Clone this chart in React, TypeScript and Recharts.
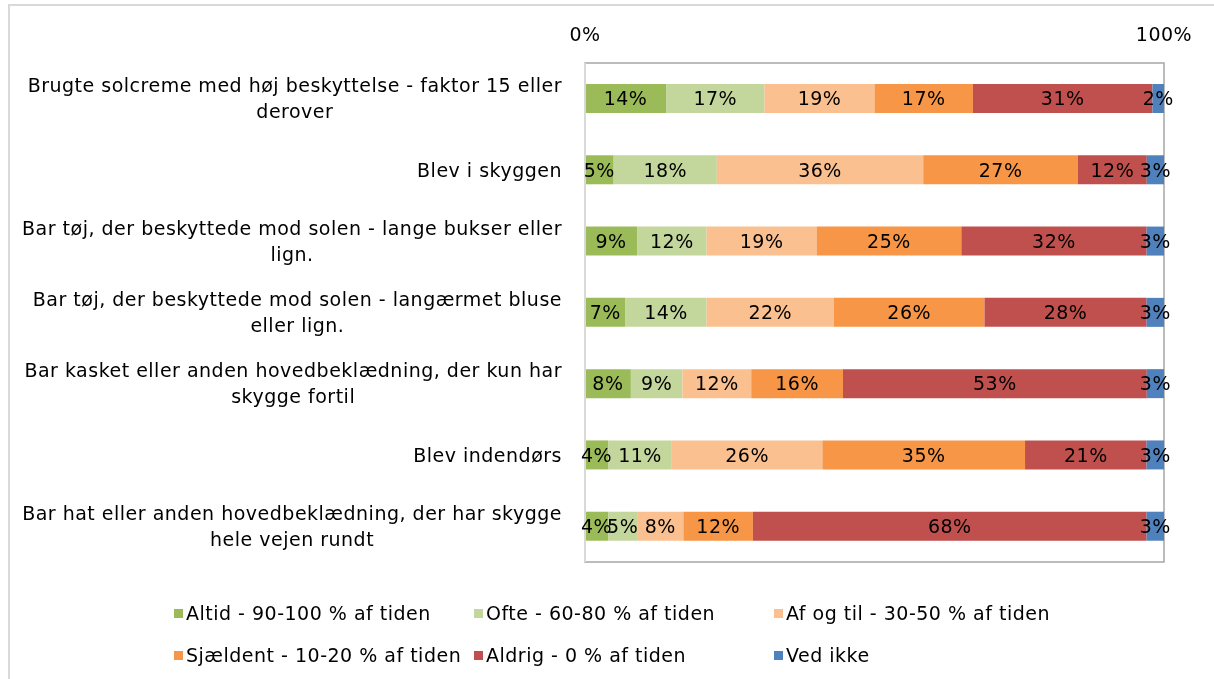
import React from "react"
import { BarChart, Bar, XAxis, YAxis, ReferenceArea, LabelList } from "recharts"

const FONT = "'DejaVu Sans', sans-serif"

// category labels, "\n" marks where the original wraps
const categories = [
  "Brugte solcreme med høj beskyttelse - faktor 15 eller\nderover",
  "Blev i skyggen",
  "Bar tøj, der beskyttede mod solen - lange bukser eller\nlign.",
  "Bar tøj, der beskyttede mod solen - langærmet bluse\neller lign.",
  "Bar kasket eller anden hovedbeklædning, der kun har\nskygge fortil",
  "Blev indendørs",
  "Bar hat eller anden hovedbeklædning, der har skygge\nhele vejen rundt",
]

const altid = [14, 5, 9, 7, 8, 4, 4]
const ofte = [17, 18, 12, 14, 9, 11, 5]
const afOgTil = [19, 36, 19, 22, 12, 26, 8]
const sjaeldent = [17, 27, 25, 26, 16, 35, 12]
const aldrig = [31, 12, 32, 28, 53, 21, 68]
const vedIkke = [2, 3, 3, 3, 3, 3, 3]

const xTicks = [0, 1]

const series = [
  { key: "altid", name: "Altid - 90-100 % af tiden", color: "#9BBB59", values: altid },
  { key: "ofte", name: "Ofte - 60-80 % af tiden", color: "#C3D69B", values: ofte },
  { key: "afOgTil", name: "Af og til - 30-50 % af tiden", color: "#FAC090", values: afOgTil },
  { key: "sjaeldent", name: "Sjældent - 10-20 % af tiden", color: "#F79646", values: sjaeldent },
  { key: "aldrig", name: "Aldrig - 0 % af tiden", color: "#C0504D", values: aldrig },
  { key: "vedIkke", name: "Ved ikke", color: "#4F81BD", values: vedIkke },
]

const data = categories.map((name, i) => {
  const row: Record<string, any> = { name }
  series.forEach((s) => (row[s.key] = s.values[i]))
  return row
})

const SIZE = 19
const SPACING = 0.5

let canvas: HTMLCanvasElement | null = null
function textWidth(t: string) {
  if (!canvas) canvas = document.createElement("canvas")
  const ctx = canvas.getContext("2d")!
  ctx.font = `${SIZE}px ${FONT}`
  return ctx.measureText(t).width + t.length * SPACING
}

function CategoryTick({ x, y, payload }: any) {
  const lines = String(payload.value).split("\n")
  const right = x - 15
  const w = Math.max(...lines.map((l) => textWidth(l)))
  const cx = right - w / 2
  const lh = 26
  const y0 = y - ((lines.length - 1) * lh) / 2
  return (
    <text x={cx} y={y0} textAnchor="middle" fontSize={SIZE} letterSpacing={SPACING} fontFamily={FONT} fill="#000">
      {lines.map((l, i) => (
        <tspan key={i} x={cx} y={y0 + i * lh} dy="0.35em">
          {l}
        </tspan>
      ))}
    </text>
  )
}

function PercentTick({ x, payload }: any) {
  return (
    <text x={x} y={34} textAnchor="middle" fontSize={SIZE} letterSpacing={SPACING} fontFamily={FONT} fill="#000">
      {Math.round(payload.value * 100)}%
    </text>
  )
}

export default function App() {
  return (
    <div style={{ position: "relative", top: -1, left: 2, width: 1200, height: 660, fontFamily: FONT }}>
      <div
        style={{
          position: "fixed",
          left: 8,
          top: 4,
          width: 1206,
          height: 675,
          boxSizing: "border-box",
          borderTop: "2px solid #D9D9D9",
          borderLeft: "2px solid #D9D9D9",
        }}
      />
      <BarChart
        width={1200}
        height={660}
        data={data}
        layout="vertical"
        stackOffset="expand"
        barSize={29}
        margin={{ top: 10, right: 46, bottom: 105, left: 0 }}
      >
        <XAxis
          type="number"
          orientation="top"
          domain={[0, 1]}
          ticks={xTicks}
          height={46}
          axisLine={false}
          tickLine={false}
          tick={<PercentTick />}
        />
        <ReferenceArea x1={0} x2={1} fill="none" stroke="#A6A6A6" strokeWidth={1.5} />
        <YAxis
          type="category"
          dataKey="name"
          width={575}
          axisLine={{ stroke: "#D9D9D9", strokeWidth: 2 }}
          tickLine={false}
          tick={<CategoryTick />}
          interval={0}
        />
        {series.map((s) => (
          <Bar key={s.key} dataKey={s.key} name={s.name} stackId="a" fill={s.color} isAnimationActive={false}>
            <LabelList
              dataKey={s.key}
              position="center"
              fill="#000"
              fontSize={SIZE}
              letterSpacing={SPACING}
              fontFamily={FONT}
              formatter={(v: any) => `${v}%`}
            />
          </Bar>
        ))}
      </BarChart>
      <div style={{ position: "absolute", left: 164, top: 594, display: "grid", gridTemplateColumns: "300px 300px 300px", rowGap: 18 }}>
        {series.map((s) => (
          <div
            key={s.key}
            style={{ display: "flex", alignItems: "center", fontSize: SIZE, letterSpacing: SPACING, height: 24, color: "#000", whiteSpace: "nowrap" }}
          >
            <span style={{ width: 9, height: 9, background: s.color, marginRight: 3, flexShrink: 0 }} />
            {s.name}
          </div>
        ))}
      </div>
    </div>
  )
}
